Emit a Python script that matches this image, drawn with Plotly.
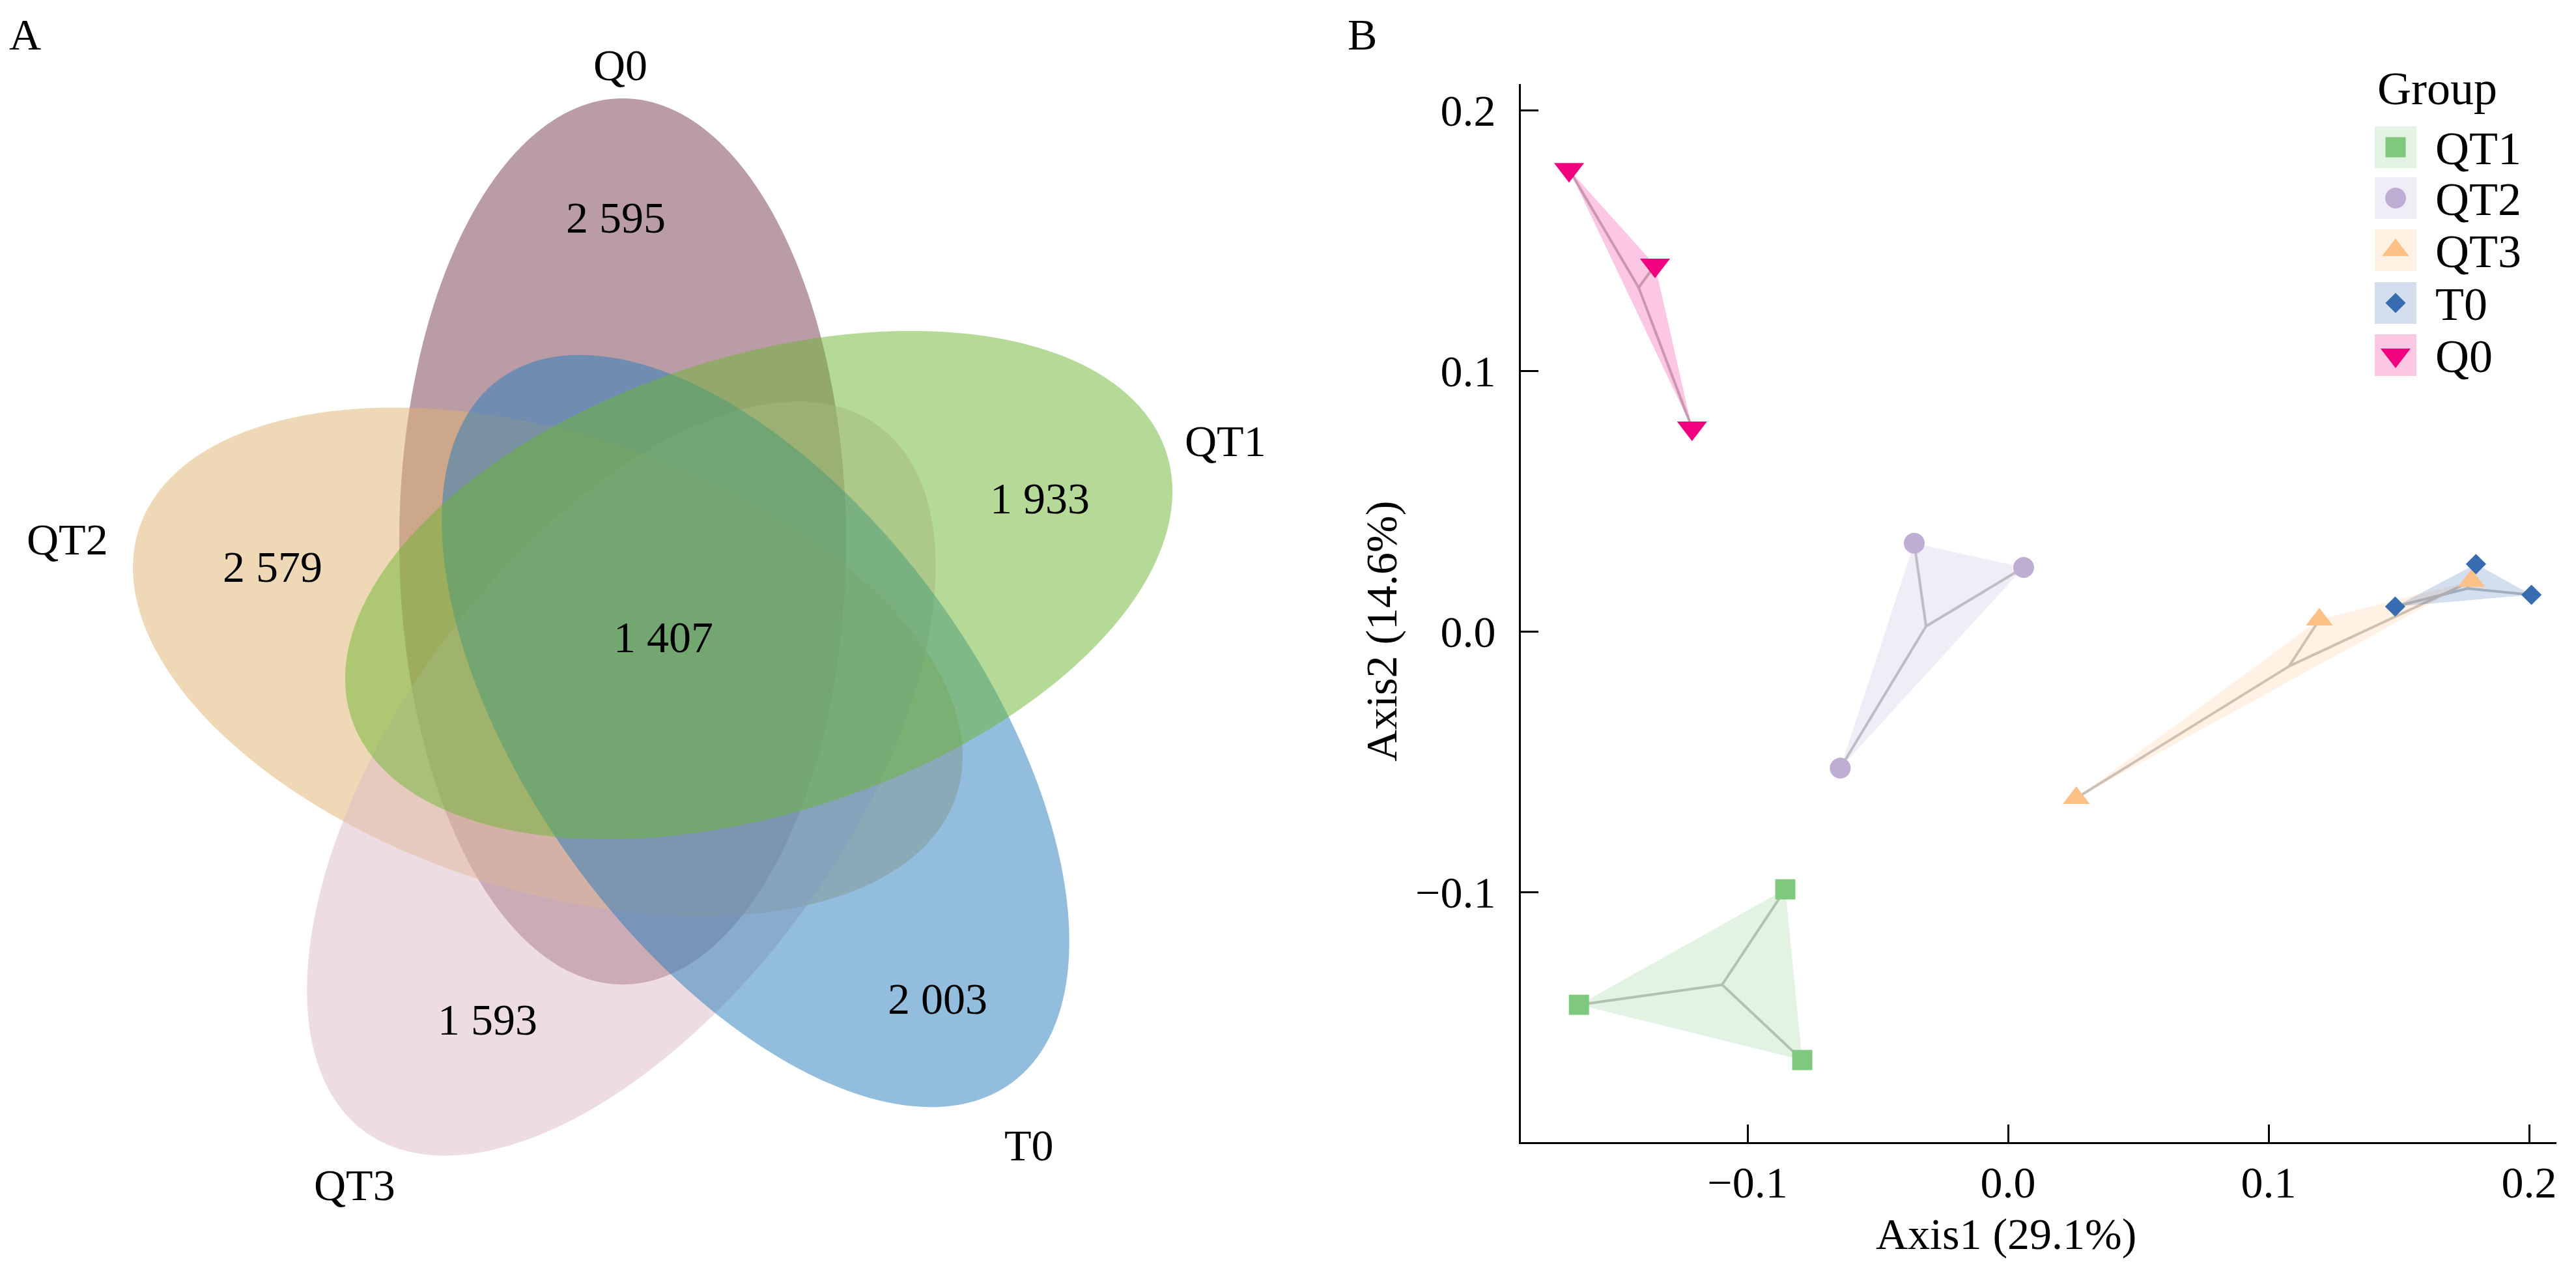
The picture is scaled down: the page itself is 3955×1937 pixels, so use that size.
import numpy as np
import plotly.graph_objects as go

W, H = 3955, 1937
FONT = "Liberation Serif"
FS = 68

# ---- panel A : Venn counts ----
venn_sets = ["Q0", "QT1", "T0", "QT3", "QT2"]
venn_unique = [2595, 1933, 2003, 1593, 2579]
venn_core = 1407

# ---- panel B : PCoA coordinates ----
groups = ["QT1", "QT2", "QT3", "T0", "Q0"]
qt1_x = [-0.1647, -0.0855, -0.0790]
qt1_y = [-0.1433, -0.0990, -0.1645]
qt2_x = [-0.0360, 0.0060, -0.0644]
qt2_y = [0.0338, 0.0245, -0.0525]
qt3_x = [0.0262, 0.1195, 0.1779]
qt3_y = [-0.0640, 0.0045, 0.0193]
t0_x = [0.1486, 0.1796, 0.2009]
t0_y = [0.0095, 0.0258, 0.0140]
q0_x = [-0.1685, -0.1355, -0.1213]
q0_y = [0.1772, 0.1405, 0.0780]
axis1_pct = 29.1
axis2_pct = 14.6

pcoa = {"QT1": (qt1_x, qt1_y), "QT2": (qt2_x, qt2_y), "QT3": (qt3_x, qt3_y),
        "T0": (t0_x, t0_y), "Q0": (q0_x, q0_y)}

# styles
grp_color = {"QT1": (127, 201, 127), "QT2": (190, 174, 212), "QT3": (253, 192, 134),
             "T0": (56, 108, 176), "Q0": (240, 2, 127)}
grp_symbol = {"QT1": "square", "QT2": "circle", "QT3": "triangle-up",
              "T0": "diamond", "Q0": "triangle-down"}
grp_size = {"QT1": 31, "QT2": 32, "QT3": 36, "T0": 24, "Q0": 40}

# ellipse geometry in page pixels: cx, cy, a, b, angle(deg), rgb  (draw order)
venn_geom = {
    "Q0": (948, 823, 680, 343, 90, (117, 57, 77)),
    "QT2": (833, 1008, 660, 350, -18, (221, 177, 107)),
    "QT3": (946, 1187, 670, 345, 54, (219, 187, 197)),
    "T0": (1152, 1114, 668, 345, -54, (37, 123, 185)),
    "QT1": (1157, 890, 658, 350, 18, (107, 181, 49)),
}
venn_label_pos = {"Q0": (944, 92), "QT1": (1873, 669), "T0": (1572, 1750),
                  "QT3": (536, 1811), "QT2": (95, 820)}
venn_count_pos = {"Q0": (937, 326), "QT1": (1588, 757), "T0": (1431, 1525),
                  "QT3": (740, 1557), "QT2": (410, 862)}
venn_core_pos = (1010, 970)


def rgba(c, a):
    return "rgba(%d,%d,%d,%s)" % (c[0], c[1], c[2], a)


def fmt(n):
    return "{:,}".format(n).replace(",", " ")


def hull(xs, ys):
    pts = sorted(set(zip(xs, ys)))
    if len(pts) < 3:
        return pts

    def cross(o, a, b):
        return (a[0] - o[0]) * (b[1] - o[1]) - (a[1] - o[1]) * (b[0] - o[0])
    lo, up = [], []
    for p in pts:
        while len(lo) >= 2 and cross(lo[-2], lo[-1], p) <= 0:
            lo.pop()
        lo.append(p)
    for p in reversed(pts):
        while len(up) >= 2 and cross(up[-2], up[-1], p) <= 0:
            up.pop()
        up.append(p)
    return lo[:-1] + up[:-1]


fig = go.Figure()

# ---- Venn ellipses (page-pixel axes x2/y2) ----
t = np.linspace(0, 2 * np.pi, 240)
for name, (cx, cy, a, b, ang, col) in venn_geom.items():
    th = np.radians(ang)
    ex, ey = a * np.cos(t), b * np.sin(t)
    px = cx + ex * np.cos(th) + ey * np.sin(th)
    py = cy - ex * np.sin(th) + ey * np.cos(th)
    fig.add_trace(go.Scatter(x=px, y=py, mode="none", fill="toself",
                             fillcolor=rgba(col, 0.5), xaxis="x2", yaxis="y2",
                             hoverinfo="skip", showlegend=False))

# ---- PCoA: spider lines, hulls, points ----
for g in groups:
    xs, ys = pcoa[g]
    mx, my = float(np.mean(xs)), float(np.mean(ys))
    lx, ly = [], []
    for x, y in zip(xs, ys):
        lx += [x, mx, None]
        ly += [y, my, None]
    fig.add_trace(go.Scatter(x=lx, y=ly, mode="lines",
                             line=dict(color="rgb(192,192,192)", width=4),
                             hoverinfo="skip", showlegend=False))
for g in groups:
    xs, ys = pcoa[g]
    hp = hull(xs, ys)
    fig.add_trace(go.Scatter(x=[p[0] for p in hp], y=[p[1] for p in hp],
                             mode="none", fill="toself",
                             fillcolor=rgba(grp_color[g], 0.22),
                             hoverinfo="skip", showlegend=False))
for g in groups:
    xs, ys = pcoa[g]
    fig.add_trace(go.Scatter(x=xs, y=ys, mode="markers", name=g,
                             marker=dict(symbol=grp_symbol[g], size=grp_size[g],
                                         color=rgba(grp_color[g], 1), line=dict(width=0)),
                             showlegend=False))

# ---- custom legend (page-pixel axes) ----
leg_x, leg_text_x = 3670, 3729
leg_rows = [218, 296, 376, 457, 537]
fig.add_trace(go.Scatter(x=[leg_x] * len(groups), y=leg_rows, mode="markers",
                         marker=dict(symbol="square", size=64, line=dict(width=0),
                                     color=[rgba(grp_color[g], 0.22) for g in groups]),
                         xaxis="x2", yaxis="y2", hoverinfo="skip", showlegend=False))
for g, yy in zip(groups, leg_rows):
    fig.add_trace(go.Scatter(x=[leg_x], y=[yy], mode="markers",
                             marker=dict(symbol=grp_symbol[g], size=grp_size[g],
                                         color=rgba(grp_color[g], 1), line=dict(width=0)),
                             xaxis="x2", yaxis="y2", hoverinfo="skip", showlegend=False))

ann = []


def txt(s, x, y, size=FS, xanchor="center", angle=0):
    ann.append(dict(text=s, x=x, y=y, xref="x2", yref="y2", showarrow=False,
                    xanchor=xanchor, yanchor="middle", textangle=angle,
                    font=dict(family=FONT, size=size, color="black")))


txt("A", 30, 45)
txt("B", 2083, 45)
for name, cnt in zip(venn_sets, venn_unique):
    txt(name, *venn_label_pos[name])
    txt(fmt(cnt), *venn_count_pos[name])
txt(fmt(venn_core), *venn_core_pos)

txt("Group", 3640, 128, size=72, xanchor="left")
for g, yy in zip(groups, leg_rows):
    txt(g, leg_text_x, yy + 2, size=72, xanchor="left")

txt("Axis1 (%.1f%%)" % axis1_pct, 3072, 1886)
txt("Axis2 (%.1f%%)" % axis2_pct, 2113, 961, angle=-90)

ax_common = dict(showline=True, linecolor="black", linewidth=3, ticks="inside",
                 ticklen=27, tickwidth=3, tickcolor="black", showgrid=False,
                 zeroline=False, mirror=False, tickformat=".1f", dtick=0.1, tick0=0,
                 tickfont=dict(family=FONT, size=FS, color="black"))

fig.update_layout(
    width=W, height=H,
    margin=dict(l=0, r=0, t=0, b=0),
    paper_bgcolor="white", plot_bgcolor="rgba(0,0,0,0)",
    showlegend=False,
    xaxis=dict(domain=[2327 / W, 3917 / W], range=[-0.187, 0.2105], anchor="y",
               ticklabelstandoff=0, **ax_common),
    yaxis=dict(domain=[1 - 1745 / H, 1 - 121 / H], range=[-0.196, 0.21], anchor="x",
               ticklabelstandoff=22, **ax_common),
    xaxis2=dict(domain=[0, 1], range=[0, W], visible=False, anchor="y2", fixedrange=True),
    yaxis2=dict(domain=[0, 1], range=[H, 0], visible=False, anchor="x2", fixedrange=True),
    annotations=ann,
)

fig.write_html("out.html")
